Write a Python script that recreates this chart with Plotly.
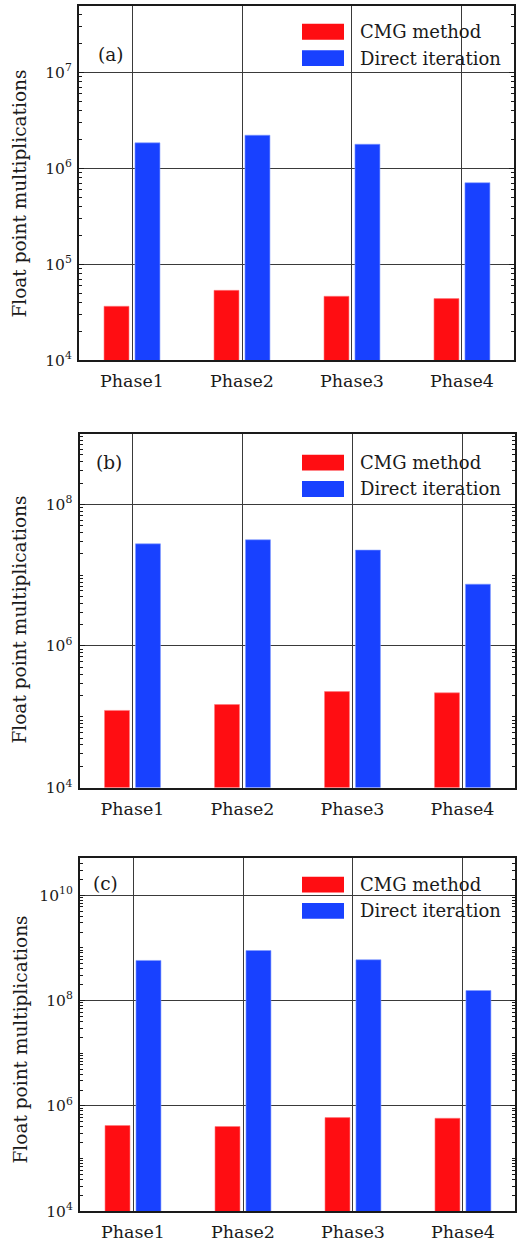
import plotly.graph_objects as go

W, H = 517, 1254

phases = ["Phase1", "Phase2", "Phase3", "Phase4"]
series_names = ["CMG method", "Direct iteration"]
panel_labels = ["(a)", "(b)", "(c)"]

cmg_a = [3.66e4, 5.36e4, 4.65e4, 4.40e4]
direct_a = [1.84e6, 2.21e6, 1.78e6, 7.07e5]
cmg_b = [1.23e5, 1.49e5, 2.27e5, 2.18e5]
direct_b = [2.77e7, 3.16e7, 2.26e7, 7.46e6]
cmg_c = [4.24e5, 4.06e5, 6.00e5, 5.82e5]
direct_c = [5.77e8, 8.91e8, 5.94e8, 1.55e8]

ytick_exp_a = [4, 5, 6, 7]
ytick_exp_b = [4, 6, 8]
ytick_exp_c = [4, 6, 8, 10]

RED = "#ff0d12"
BLUE = "#1841ff"
FONT = "DejaVu Serif"
INK = "#1a1a1a"

panels = [
    dict(cmg=cmg_a, direct=direct_a, ticks=ytick_exp_a, l=79, r=514, t=6, b=363, ytop=7.69,
         lab=(110, 55), leg_t=24, title_y=195),
    dict(cmg=cmg_b, direct=direct_b, ticks=ytick_exp_b, l=79.5, r=514.5, t=436.7, b=793.3, ytop=9.0,
         lab=(109, 466), leg_t=458, title_y=624),
    dict(cmg=cmg_c, direct=direct_c, ticks=ytick_exp_c, l=80, r=515, t=864, b=1220, ytop=10.71,
         lab=(105, 890), leg_t=883, title_y=1047),
]


def px(x):
    return x / W


def py(y):
    return 1 - y / H


fig = go.Figure()
layout = dict(
    width=W, height=H, margin=dict(l=0, r=0, t=0, b=0),
    paper_bgcolor="white", plot_bgcolor="white",
    showlegend=False, font=dict(family=FONT, size=16, color=INK),
)
shapes = []
annotations = []

for i, p in enumerate(panels):
    n = "" if i == 0 else str(i + 1)
    xa, ya = "x" + n, "y" + n
    fig.add_trace(go.Bar(
        x=phases, y=p["cmg"], name=series_names[0], xaxis=xa, yaxis=ya,
        width=0.227, offset=-0.2545,
        marker=dict(color=RED, line=dict(color="#ff7a7e", width=0.6)),
    ))
    fig.add_trace(go.Bar(
        x=phases, y=p["direct"], name=series_names[1], xaxis=xa, yaxis=ya,
        width=0.227, offset=0.027,
        marker=dict(color=BLUE, line=dict(color="#7f9bff", width=0.6)),
    ))
    lo = p["ticks"][0]
    hi_int = int(p["ytop"]) + 1
    minor_vals = []
    for e in range(lo, hi_int):
        if e not in p["ticks"]:
            minor_vals.append(10 ** e)
        for k in range(2, 10):
            minor_vals.append(k * 10 ** e)
    layout["xaxis" + n] = dict(
        domain=[px(p["l"]), px(p["r"])], anchor=ya,
        type="category", range=[-0.482, 3.473],
        showline=True, linecolor=INK, linewidth=2, mirror=True,
        showgrid=True, gridcolor="#3a3a3a", gridwidth=1,
        ticks="", tickfont=dict(family=FONT, size=17.5, color=INK),
        ticklabelstandoff=4,
    )
    layout["yaxis" + n] = dict(
        domain=[py(p["b"]), py(p["t"])], anchor=xa,
        type="log", range=[lo, p["ytop"]],
        tickmode="array", tickvals=[10 ** e for e in p["ticks"]],
        ticktext=["10<sup>%d</sup>" % e for e in p["ticks"]],
        showline=True, linecolor=INK, linewidth=2, mirror="ticks",
        ticks="inside", ticklen=5, tickwidth=1, tickcolor=INK,
        showgrid=True, gridcolor="#3a3a3a", gridwidth=1,
        minor=dict(tickmode="array", tickvals=minor_vals, ticks="inside",
                   ticklen=3, tickwidth=1, tickcolor=INK, showgrid=False),
        tickfont=dict(family=FONT, size=15.5, color=INK),
        ticklabelstandoff=2,
        zeroline=False,
    )
    lt = p["leg_t"]
    for j, (col, name) in enumerate([(RED, series_names[0]), (BLUE, series_names[1])]):
        y0 = lt + j * 26.5
        shapes.append(dict(type="rect", xref="paper", yref="paper",
                           x0=px(302), x1=px(344), y0=py(y0 + 16), y1=py(y0),
                           fillcolor=col, line=dict(width=0), layer="above"))
        annotations.append(dict(text=name, xref="paper", yref="paper",
                                x=px(358), y=py(y0 + 8), xanchor="left", yanchor="middle",
                                showarrow=False, font=dict(family=FONT, size=18, color=INK)))
    annotations.append(dict(text=panel_labels[i], xref="paper", yref="paper",
                            x=px(p["lab"][0]), y=py(p["lab"][1]), xanchor="center",
                            yanchor="middle", showarrow=False,
                            font=dict(family=FONT, size=18.5, color=INK)))
    annotations.append(dict(text="Float point multiplications", xref="paper", yref="paper",
                            x=px(20), y=py(p["title_y"]), xanchor="center", yanchor="middle",
                            textangle=-90, showarrow=False,
                            font=dict(family=FONT, size=18.5, color=INK)))

layout["shapes"] = shapes
layout["annotations"] = annotations
fig.update_layout(**layout)
fig.write_html("out.html", config={"displayModeBar": False},
               post_script="document.body.style.margin='0';document.body.style.padding='0';")
